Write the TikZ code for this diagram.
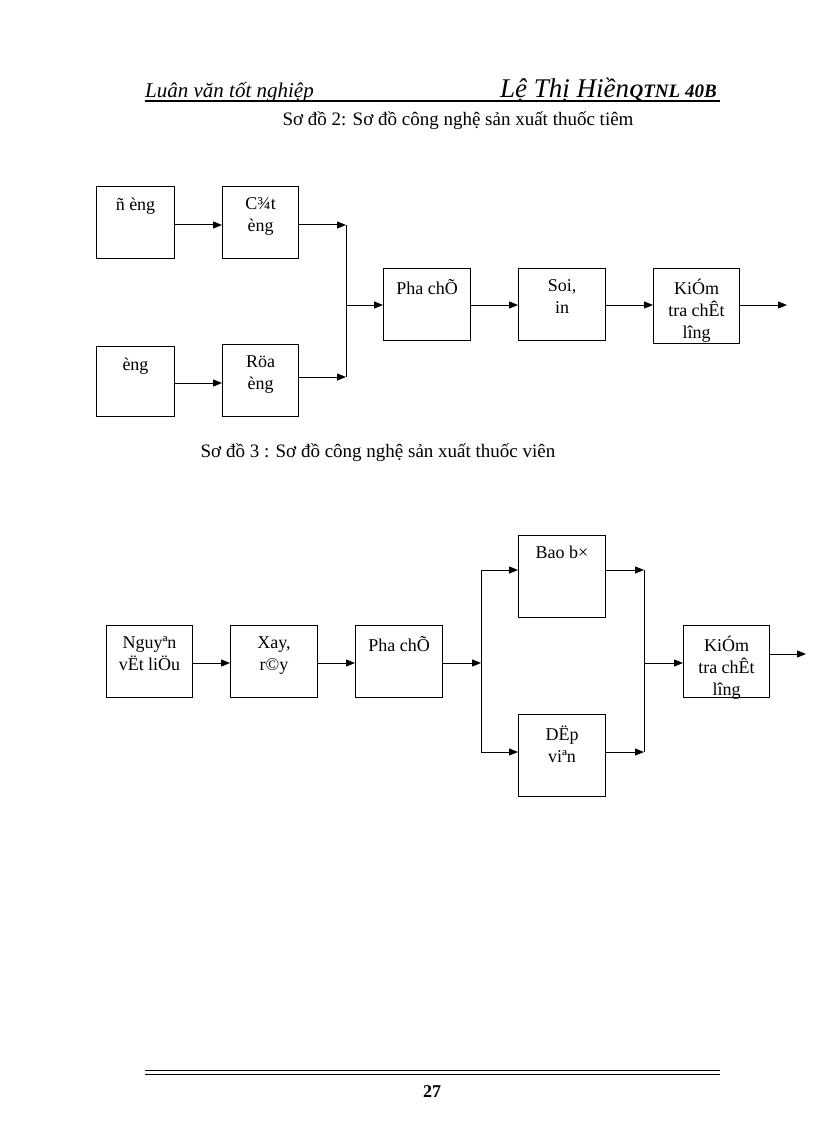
\documentclass[tikz,border=0pt]{standalone}
\usepackage{fontspec}
\setmainfont{Liberation Serif}
\usetikzlibrary{arrows.meta}
\newcommand{\bt}[3]{\parbox[t][#2][t]{#1}{\centering\vspace*{11pt}#3}}
\begin{document}
\begin{tikzpicture}[x=1pt,y=-1pt,
  bx/.style={draw,line width=1pt,anchor=north west,inner sep=0pt,font=\fontsize{18}{22}\selectfont},
  ar/.style={-{Triangle[length=9pt,width=7pt]},line width=1pt},
  ln/.style={line width=1pt}]
\useasboundingbox (0,0) rectangle (816,1123);
% header
\node[anchor=base west,inner sep=0pt,font=\itshape\fontsize{21}{24}\selectfont] (h1) at (145,98) {Luân văn tốt nghiệp};
\node[anchor=base west,inner sep=0pt,font=\itshape\fontsize{27}{30}\selectfont] (h2) at (500,98) {Lệ Thị Hiền};
\node[anchor=base west,inner sep=0pt,font=\bfseries\itshape\fontsize{19}{20}\selectfont] (h3) at (h2.base east) {QTNL 40B};
\draw[line width=1.3pt] (145,101) coordinate (hl) -- (720,101) coordinate (hr);
\node[font=\fontsize{19}{22}\selectfont,inner sep=0pt] (t2) at (458,121) {Sơ đồ 2: Sơ đồ công nghệ sản xuất thuốc tiêm};
% diagram 2
\node[bx] (a) at (96,186) {\bt{78pt}{72pt}{ñ èng}};
\node[bx] (b) at (222,186) {\bt{76pt}{72pt}{C¾t\\èng}};
\node[bx] (c) at (96,346) {\bt{78pt}{70pt}{èng}};
\node[bx] (d) at (222,344) {\bt{76pt}{72pt}{Röa\\èng}};
\node[bx] (p) at (383,268) {\bt{87pt}{72pt}{Pha chÕ}};
\node[bx] (s) at (518,268) {\bt{87pt}{72pt}{Soi,\\in}};
\node[bx] (k) at (653,268) {\bt{86pt}{75pt}{KiÓm\\tra chÊt\\lîng}};
\coordinate (j1) at (346,225);
\coordinate (j2) at (346,377);
\coordinate (jm) at (346,305);
\coordinate (o1) at (787,305);
\draw[ar] (a.east |- 0,225) -- (b.west |- 0,225);
\draw[ar] (c.east |- 0,383) -- (d.west |- 0,383);
\draw[ar] (b.east |- j1) -- (j1);
\draw[ar] (d.east |- j2) -- (j2);
\draw[ln] (j1) -- (j2);
\draw[ar] (jm) -- (p.west |- jm);
\draw[ar] (p.east |- jm) -- (s.west |- jm);
\draw[ar] (s.east |- jm) -- (k.west |- jm);
\draw[ar] (k.east |- jm) -- (o1);
% diagram 3
\node[font=\fontsize{19}{22}\selectfont,inner sep=0pt] (t3) at (378,453) {Sơ đồ 3 : Sơ đồ công nghệ sản xuất thuốc viên};
\node[bx] (n) at (106,625) {\bt{86pt}{72pt}{Nguyªn\\vËt liÖu}};
\node[bx] (x) at (230,625) {\bt{87pt}{72pt}{Xay,\\r©y}};
\node[bx] (q) at (355,625) {\bt{87pt}{72pt}{Pha chÕ}};
\node[bx] (bb) at (518,535) {\bt{87pt}{82pt}{Bao b×}};
\node[bx] (dv) at (518,714) {\bt{87pt}{82pt}{DËp\\viªn}};
\node[bx] (kk) at (683,625) {\bt{86pt}{72pt}{KiÓm\\tra chÊt\\lîng}};
\coordinate (m) at (0,663);
\coordinate (s1) at (481,570);
\coordinate (s2) at (481,752);
\coordinate (sm) at (481,663);
\coordinate (r1) at (644,570);
\coordinate (r2) at (644,752);
\coordinate (rm) at (644,663);
\coordinate (o2) at (806,654);
\draw[ar] (n.east |- m) -- (x.west |- m);
\draw[ar] (x.east |- m) -- (q.west |- m);
\draw[ar] (q.east |- m) -- (sm);
\draw[ln] (s1) -- (s2);
\draw[ar] (s1) -- (bb.west |- s1);
\draw[ar] (s2) -- (dv.west |- s2);
\draw[ar] (bb.east |- r1) -- (r1);
\draw[ar] (dv.east |- r2) -- (r2);
\draw[ln] (r1) -- (r2);
\draw[ar] (rm) -- (kk.west |- rm);
\draw[ar] (kk.east |- o2) -- (o2);
% footer
\draw[line width=1pt] (145,1070) coordinate (f1) -- (720,1070) coordinate (f2);
\draw[line width=1pt] (145,1074) -- (720,1074);
\node[font=\bfseries\fontsize{18}{20}\selectfont,inner sep=0pt] (pg) at (432,1092) {27};
\end{tikzpicture}
\end{document}
